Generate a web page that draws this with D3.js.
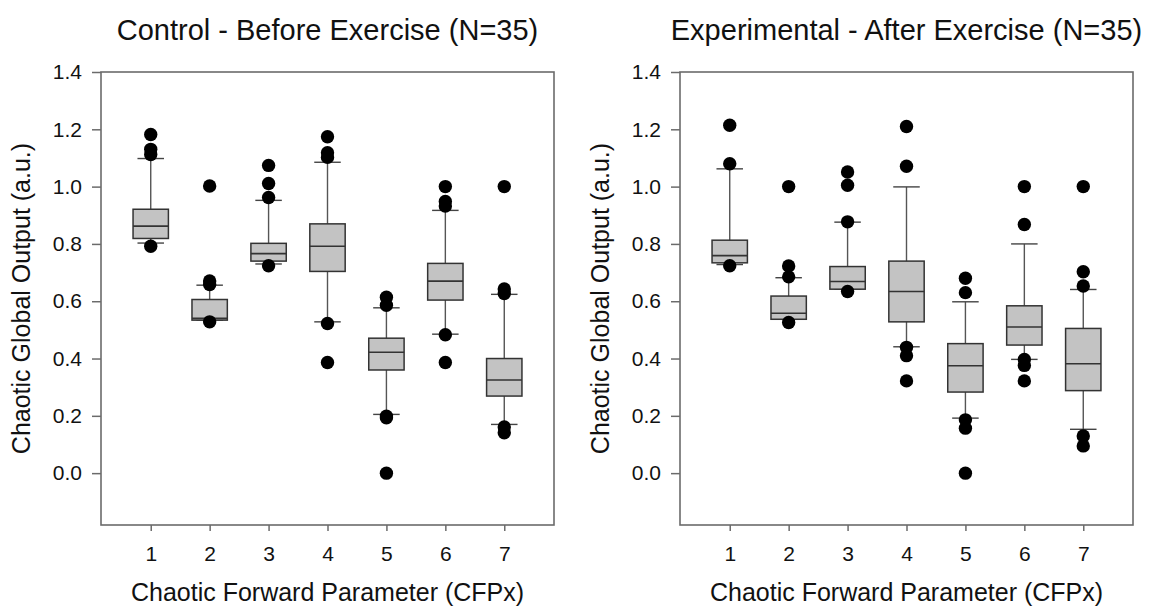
<!DOCTYPE html>
<html lang="en">

<head>
    <meta charset="utf-8" />
    <title>Chaotic Global Output - Control vs Experimental</title>
    <script src="https://d3js.org/d3.v7.min.js"></script>
    <style>
        body {
            margin: 0;
            background: #fff;
            font-family: 'Liberation Sans', Arial, sans-serif;
        }

        .panel-title {
            font-size: 29px;
            fill: #111;
        }

        .axis-title {
            font-size: 25px;
            fill: #111;
        }
    </style>
</head>

<body>
    <div id="chart"></div>
    <script>
        // categories + tick labels
        var cfpCategories = [1, 2, 3, 4, 5, 6, 7];
        var yTickValues = [0, 0.2, 0.4, 0.6, 0.8, 1.0, 1.2, 1.4];
        var panelTitles = ['Control - Before Exercise (N=35)', 'Experimental - After Exercise (N=35)'];
        var xAxisTitle = 'Chaotic Forward Parameter (CFPx)';
        var yAxisTitle = 'Chaotic Global Output (a.u.)';

        // control - before exercise
        var controlWhiskerLow = [0.803, 0.534, 0.730, 0.528, 0.205, 0.485, 0.170];
        var controlQ1 = [0.819, 0.534, 0.740, 0.704, 0.360, 0.604, 0.269];
        var controlMedian = [0.862, 0.540, 0.766, 0.792, 0.422, 0.670, 0.325];
        var controlQ3 = [0.921, 0.606, 0.802, 0.870, 0.471, 0.732, 0.400];
        var controlWhiskerHigh = [1.098, 0.656, 0.952, 1.085, 0.577, 0.917, 0.624];
        var controlOutliers = [
            [1.182, 1.130, 1.112, 0.792],
            [1.002, 0.671, 0.658, 0.528],
            [1.074, 1.011, 0.962, 0.724],
            [1.174, 1.118, 1.102, 0.522, 0.386],
            [0.614, 0.586, 0.199, 0.193, 0.0],
            [1.0, 0.948, 0.932, 0.483, 0.386],
            [1.0, 0.643, 0.627, 0.161, 0.141]
        ];

        // experimental - after exercise
        var experimentalWhiskerLow = [0.728, 0.537, 0.642, 0.441, 0.192, 0.397, 0.153];
        var experimentalQ1 = [0.734, 0.537, 0.642, 0.528, 0.283, 0.447, 0.288];
        var experimentalMedian = [0.759, 0.558, 0.669, 0.634, 0.375, 0.510, 0.382];
        var experimentalQ3 = [0.813, 0.618, 0.721, 0.740, 0.452, 0.584, 0.505];
        var experimentalWhiskerHigh = [1.062, 0.682, 0.876, 0.999, 0.598, 0.800, 0.641];
        var experimentalOutliers = [
            [1.214, 1.080, 0.724],
            [1.0, 0.723, 0.685, 0.526],
            [1.051, 1.005, 0.877, 0.634],
            [1.210, 1.071, 0.439, 0.410, 0.322],
            [0.680, 0.630, 0.186, 0.157, 0.0],
            [1.0, 0.868, 0.397, 0.376, 0.322],
            [1.0, 0.703, 0.653, 0.130, 0.095]
        ];

        (function(d3) {
            'use strict';

            var width = 1155;
            var height = 609;
            var plotWidth = 453;
            var plotHeight = 453;
            var plotTop = 72;
            var plotLefts = [101, 680];
            var boxWidth = 0.6;
            var capWidth = 0.45;
            var dotRadius = 6.7;
            var frameColor = '#6b6b6b';

            function buildRows(lo, q1, med, q3, hi, outliers) {
                return cfpCategories.map(function(c, i) {
                    return {
                        cat: c,
                        lo: lo[i],
                        q1: q1[i],
                        med: med[i],
                        q3: q3[i],
                        hi: hi[i],
                        outliers: outliers[i]
                    };
                });
            }

            var panels = [
                buildRows(controlWhiskerLow, controlQ1, controlMedian, controlQ3, controlWhiskerHigh, controlOutliers),
                buildRows(experimentalWhiskerLow, experimentalQ1, experimentalMedian, experimentalQ3, experimentalWhiskerHigh, experimentalOutliers)
            ];

            var x = d3.scaleLinear()
                .domain([0.156, 7.844])
                .range([0, plotWidth]);

            var y = d3.scaleLinear()
                .domain([-0.181, 1.4])
                .range([plotHeight, 0]);

            var svg = d3.select('#chart')
                .append('svg')
                .attr('width', width)
                .attr('height', height);

            panels.forEach(function(rows, p) {
                var g = svg.append('g')
                    .attr('transform', 'translate(' + plotLefts[p] + ',' + plotTop + ')');

                // title
                svg.append('text')
                    .attr('class', 'panel-title')
                    .attr('x', plotLefts[p] + plotWidth / 2)
                    .attr('y', 40)
                    .attr('text-anchor', 'middle')
                    .text(panelTitles[p]);

                // axes
                var yAxis = g.append('g')
                    .call(d3.axisLeft(y)
                        .tickValues(yTickValues)
                        .tickFormat(d3.format('.1f'))
                        .tickSize(9)
                        .tickPadding(10));

                var xAxis = g.append('g')
                    .attr('transform', 'translate(0,' + plotHeight + ')')
                    .call(d3.axisBottom(x)
                        .tickValues(cfpCategories)
                        .tickFormat(d3.format('d'))
                        .tickSize(6)
                        .tickPadding(15));

                [yAxis, xAxis].forEach(function(a) {
                    a.select('.domain').remove();
                    a.attr('font-family', null).attr('font-size', null);
                    a.selectAll('.tick line')
                        .attr('stroke', frameColor)
                        .attr('stroke-width', 1.5);
                    a.selectAll('.tick text')
                        .style('font-family', "'Liberation Sans', Arial, sans-serif")
                        .style('font-size', '21px')
                        .attr('fill', '#111');
                });

                // frame
                g.append('rect')
                    .attr('width', plotWidth)
                    .attr('height', plotHeight)
                    .attr('fill', 'none')
                    .attr('stroke', frameColor)
                    .attr('stroke-width', 1.6);

                // axis titles
                g.append('text')
                    .attr('class', 'axis-title')
                    .attr('x', plotWidth / 2)
                    .attr('y', 529)
                    .attr('text-anchor', 'middle')
                    .text(xAxisTitle);

                g.append('text')
                    .attr('class', 'axis-title')
                    .attr('transform', 'translate(-71,' + (plotHeight / 2) + ') rotate(-90)')
                    .attr('text-anchor', 'middle')
                    .text(yAxisTitle);

                var box = g.selectAll('.box')
                    .data(rows)
                    .enter()
                    .append('g')
                    .attr('class', 'box');

                // whiskers
                box.append('line')
                    .attr('x1', function(d) { return x(d.cat); })
                    .attr('x2', function(d) { return x(d.cat); })
                    .attr('y1', function(d) { return y(d.hi); })
                    .attr('y2', function(d) { return y(d.lo); })
                    .attr('stroke', '#555')
                    .attr('stroke-width', 1.4);

                box.selectAll('.cap')
                    .data(function(d) {
                        return [{ cat: d.cat, v: d.hi }, { cat: d.cat, v: d.lo }];
                    })
                    .enter()
                    .append('line')
                    .attr('class', 'cap')
                    .attr('x1', function(d) { return x(d.cat - capWidth / 2); })
                    .attr('x2', function(d) { return x(d.cat + capWidth / 2); })
                    .attr('y1', function(d) { return y(d.v); })
                    .attr('y2', function(d) { return y(d.v); })
                    .attr('stroke', '#444')
                    .attr('stroke-width', 1.4);

                // boxes
                box.append('rect')
                    .attr('x', function(d) { return x(d.cat - boxWidth / 2); })
                    .attr('y', function(d) { return y(d.q3); })
                    .attr('width', function(d) { return x(d.cat + boxWidth / 2) - x(d.cat - boxWidth / 2); })
                    .attr('height', function(d) { return y(d.q1) - y(d.q3); })
                    .attr('fill', '#c3c3c3')
                    .attr('stroke', '#333')
                    .attr('stroke-width', 1.5);

                box.append('line')
                    .attr('x1', function(d) { return x(d.cat - boxWidth / 2); })
                    .attr('x2', function(d) { return x(d.cat + boxWidth / 2); })
                    .attr('y1', function(d) { return y(d.med); })
                    .attr('y2', function(d) { return y(d.med); })
                    .attr('stroke', '#333')
                    .attr('stroke-width', 1.6);

                // outliers
                box.selectAll('circle')
                    .data(function(d) {
                        return d.outliers.map(function(v) { return { cat: d.cat, v: v }; });
                    })
                    .enter()
                    .append('circle')
                    .attr('cx', function(d) { return x(d.cat); })
                    .attr('cy', function(d) { return y(d.v); })
                    .attr('r', dotRadius)
                    .attr('fill', '#000');
            });
        })(window.d3);
    </script>
</body>

</html>
